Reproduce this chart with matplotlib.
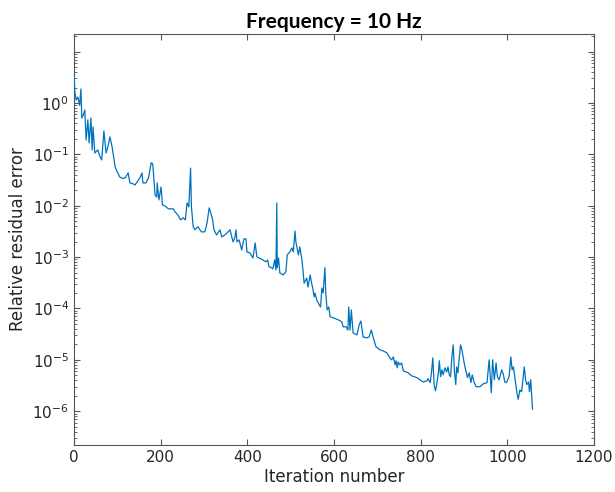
import matplotlib
matplotlib.use("Agg")
import matplotlib.pyplot as plt
from matplotlib.ticker import LogLocator, NullFormatter

plt.rcParams["font.family"] = ["DejaVu Sans"]
plt.rcParams["mathtext.fontset"] = "dejavusans"

# Iteration numbers and relative residual error
iters = [0, 2, 5, 9, 13, 16, 18, 22, 25, 28, 32, 35, 39, 42, 44, 48, 55, 60, 64, 69,
         74, 78, 83, 88, 95, 100, 106, 112, 118, 125, 129, 135, 141, 147, 152, 157, 159, 166, 172, 178,
         180, 182, 187, 191, 192, 196, 201, 204, 210, 218, 224, 229, 233, 240, 246, 252, 257, 261, 265, 269,
         271, 275, 279, 286, 294, 302, 307, 312, 315, 320, 323, 329, 337, 341, 348, 354, 360, 364, 367, 371,
         374, 376, 381, 387, 392, 397, 399, 406, 413, 418, 422, 427, 436, 443, 447, 450, 456, 459, 463, 466,
         468, 469, 472, 475, 483, 489, 492, 498, 503, 506, 510, 512, 518, 521, 526, 529, 531, 537, 540, 545,
         549, 551, 554, 556, 560, 566, 569, 572, 575, 579, 581, 584, 588, 591, 598, 604, 610, 618, 621, 628,
         632, 634, 637, 640, 644, 653, 658, 662, 665, 667, 676, 681, 686, 690, 692, 697, 706, 713, 722, 729,
         733, 737, 741, 743, 746, 748, 752, 756, 760, 771, 779, 791, 798, 806, 814, 817, 822, 825, 828, 831,
         834, 837, 841, 843, 846, 849, 852, 856, 860, 863, 866, 869, 872, 875, 878, 881, 883, 886, 889, 892,
         895, 898, 902, 905, 908, 912, 916, 919, 923, 928, 937, 944, 953, 958, 960, 963, 966, 970, 974, 977,
         981, 987, 991, 994, 998, 1004, 1008, 1011, 1014, 1018, 1022, 1025, 1029, 1033, 1036, 1039, 1042, 1045, 1049, 1051,
         1054, 1058]
residual = [3.8, 1.64, 1.14, 1.3, 0.9, 1.87, 0.51, 0.6, 0.73, 0.19, 0.47, 0.167, 0.51, 0.122, 0.34, 0.106, 0.122, 0.09, 0.078, 0.285,
            0.106, 0.139, 0.218, 0.139, 0.057, 0.045, 0.036, 0.034, 0.0347, 0.0435, 0.0278, 0.027, 0.0254, 0.03, 0.0347, 0.0435, 0.0278, 0.0278, 0.035, 0.068,
            0.068, 0.062, 0.0162, 0.0148, 0.0278, 0.013, 0.0232, 0.0104, 0.0099, 0.0087, 0.0087, 0.0087, 0.0076, 0.0066, 0.0053, 0.0058, 0.0053, 0.0113, 0.0095, 0.054,
            0.0095, 0.0039, 0.0034, 0.0039, 0.0031, 0.0031, 0.0046, 0.0091, 0.0076, 0.0053, 0.0034, 0.0027, 0.0034, 0.00247, 0.0027, 0.003, 0.0034, 0.00247, 0.00198, 0.00237,
            0.0034, 0.00198, 0.00216, 0.00138, 0.00226, 0.00226, 0.00126, 0.00121, 0.00096, 0.00189, 0.00101, 0.00096, 0.00088, 0.00081, 0.00088, 0.00065, 0.00062, 0.00059, 0.00088, 0.00056,
            0.0113, 0.00062, 0.00096, 0.00049, 0.00045, 0.00052, 0.0011, 0.00126, 0.00151, 0.00126, 0.0032, 0.00198, 0.0011, 0.00158, 0.00088, 0.00049, 0.00031, 0.00039, 0.00026, 0.00045,
            0.00029, 0.00025, 0.000168, 0.0002, 0.000147, 0.000117, 0.000107, 0.00025, 0.0002, 0.00062, 0.0002, 0.000094, 0.000107, 0.000069, 0.000066, 0.000063, 0.00006, 0.000055, 0.000044, 0.000044,
            0.000038, 0.000107, 0.000038, 0.000094, 3.35e-5, 3.06e-5, 4.8e-5, 5.7e-5, 3.8e-5, 2.8e-5, 2.68e-5, 2.8e-5, 3.8e-5, 2.8e-5, 2.45e-5, 1.79e-5, 1.57e-5, 1.5e-5, 1.37e-5, 1.09e-5,
            1.0e-5, 1.14e-5, 8.0e-6, 9.6e-6, 7.0e-6, 9.1e-6, 8.0e-6, 8.7e-6, 6.1e-6, 5.6e-6, 4.9e-6, 4.5e-6, 4.1e-6, 3.7e-6, 3.9e-6, 4.3e-6, 3.6e-6, 5.8e-6, 1.09e-5, 3.3e-6,
            2.5e-6, 3.3e-6, 5.8e-6, 9.6e-6, 4.7e-6, 6.4e-6, 5.1e-6, 7.0e-6, 5.8e-6, 7.3e-6, 5.1e-6, 4.7e-6, 1.14e-5, 1.96e-5, 5.8e-6, 3.3e-6, 7.3e-6, 5.6e-6, 1.09e-5, 1.96e-5,
            1.57e-5, 1.14e-5, 7.3e-6, 5.8e-6, 4.5e-6, 5.6e-6, 3.6e-6, 5.1e-6, 3.7e-6, 3.0e-6, 3.0e-6, 3.4e-6, 3.6e-6, 1.0e-5, 5.6e-6, 2.3e-6, 1.0e-5, 4.1e-6, 8.7e-6, 4.7e-6,
            4.1e-6, 6.4e-6, 5.1e-6, 3.7e-6, 3.6e-6, 4.7e-6, 1.14e-5, 6.4e-6, 7.3e-6, 4.1e-6, 2.3e-6, 1.7e-6, 2.6e-6, 2.4e-6, 4.1e-6, 7.3e-6, 4.1e-6, 3.3e-6, 3.7e-6, 2.4e-6,
            4.1e-6, 1.1e-6]

x_ticks = [0, 200, 400, 600, 800, 1000, 1200]
y_ticks = [1e-6, 1e-5, 1e-4, 1e-3, 1e-2, 1e-1, 1e0, 1e1]
y_tick_labels = [r"$10^{-6}$", r"$10^{-5}$", r"$10^{-4}$", r"$10^{-3}$",
                 r"$10^{-2}$", r"$10^{-1}$", r"$10^{0}$", ""]

text_col = "#262626"
axis_col = "#555555"

fig = plt.figure(figsize=(6.15, 4.92), dpi=100)
ax = fig.add_axes([0.1203, 0.0955, 0.8456, 0.8354])

# line drawn above the spines so the first drop at iteration 0 stays visible
ax.plot(iters, residual, color=(0, 0.447, 0.741), linewidth=0.9, zorder=3)

ax.set_yscale("log")
ax.set_xlim(0, 1200)
ax.set_ylim(2.2e-7, 22)
ax.set_xticks(x_ticks)
ax.set_yticks(y_ticks)
ax.set_yticklabels(y_tick_labels)
ax.yaxis.set_minor_locator(LogLocator(base=10, subs=range(2, 10), numticks=20))
ax.yaxis.set_minor_formatter(NullFormatter())

ax.tick_params(which="both", direction="in", top=True, right=True,
               colors=axis_col, labelcolor=text_col, labelsize=11)
ax.tick_params(which="major", length=4, width=0.8)
ax.tick_params(which="minor", length=2.5, width=0.6)
for s in ax.spines.values():
    s.set_color(axis_col)
    s.set_linewidth(0.8)

ax.set_xlabel("Iteration number", fontsize=12, color=text_col, labelpad=2)
ax.set_ylabel("Relative residual error", fontsize=12, color=text_col, labelpad=4)
ax.set_title("Frequency = 10 Hz", fontsize=15, fontweight="bold", family="Lato",
             color="black", pad=4)

fig.savefig("out.png", dpi=100)
